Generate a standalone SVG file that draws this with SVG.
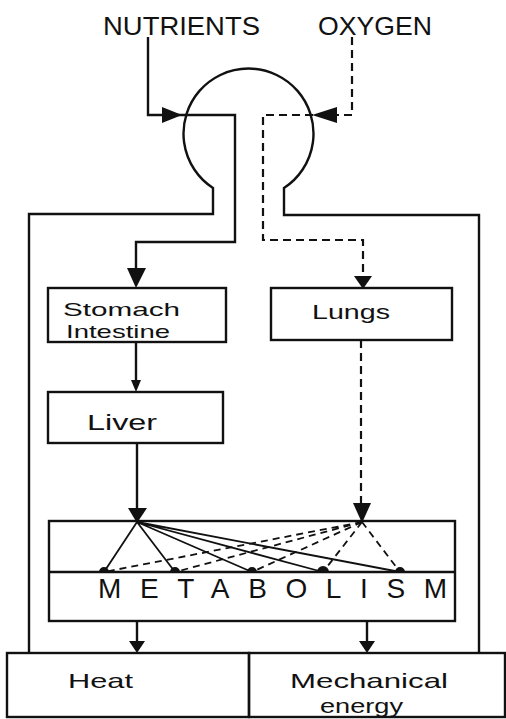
<svg xmlns="http://www.w3.org/2000/svg" width="506" height="719" viewBox="0 0 506 719">
<style>
.s{fill:none;stroke:#111;stroke-width:2.4;stroke-linejoin:miter}
.d{fill:none;stroke:#111;stroke-width:2.2;stroke-dasharray:8 5}
.dt{fill:none;stroke:#111;stroke-width:1.8;stroke-dasharray:7 5}
.l{fill:none;stroke:#111;stroke-width:1.8}
.a{fill:#111}
.t{font-family:"Liberation Sans",Arial,sans-serif;fill:#111}
</style>
<rect width="506" height="719" fill="#fff"/>
<g id="body">
<path class="s" d="M29,652 V214 H213 V188 A65,65 0 1 1 284,188 V215 H479 V652"/>
</g>
<g id="nutrients"><text class="t" x="103" y="35" font-size="26" textLength="157" lengthAdjust="spacingAndGlyphs">NUTRIENTS</text></g>
<g id="oxygen"><text class="t" x="318" y="35" font-size="26" textLength="114" lengthAdjust="spacingAndGlyphs">OXYGEN</text></g>
<g id="stomach">
<rect class="s" x="48" y="288" width="178" height="54"/>
<text class="t" x="63" y="316" font-size="19" textLength="117" lengthAdjust="spacingAndGlyphs">Stomach</text>
<text class="t" x="66" y="338" font-size="19" textLength="104" lengthAdjust="spacingAndGlyphs">Intestine</text>
</g>
<g id="lungs">
<rect class="s" x="271" y="288" width="181" height="52"/>
<text class="t" x="312" y="319" font-size="21" textLength="78" lengthAdjust="spacingAndGlyphs">Lungs</text>
</g>
<g id="liver">
<rect class="s" x="48" y="392" width="175" height="51"/>
<text class="t" x="87" y="430" font-size="22" textLength="70" lengthAdjust="spacingAndGlyphs">Liver</text>
</g>
<g id="metabolism">
<rect class="s" x="49" y="521" width="406" height="100"/>
<line class="s" x1="49" y1="572" x2="455" y2="572"/>
<text class="t" x="98" y="598" font-size="28" textLength="349" lengthAdjust="spacing">METABOLISM</text>
</g>
<g id="heat">
<rect class="s" x="7" y="653" width="242" height="64"/>
<text class="t" x="68" y="688" font-size="21" textLength="65" lengthAdjust="spacingAndGlyphs">Heat</text>
</g>
<g id="mechanical">
<rect class="s" x="249" y="653" width="256" height="64"/>
<text class="t" x="290" y="688" font-size="21" textLength="158" lengthAdjust="spacingAndGlyphs">Mechanical</text>
<text class="t" x="320" y="713" font-size="20" textLength="83" lengthAdjust="spacingAndGlyphs">energy</text>
</g>
<g id="connectors">
<path class="s" d="M148,37 V115 H235 V242 H136 V270"/>
<polygon class="a" points="162,107 182,115 162,123"/>
<polygon class="a" points="127,268 146,268 136,288"/>
<path class="d" d="M352,37 V115 H263 V240 H363 V278"/>
<polygon class="a" points="337,107 312,115 337,123"/>
<polygon class="a" points="354,276 372,276 363,289"/>
<path class="s" d="M136,342 V382"/>
<polygon class="a" points="131,380 141,380 136,392"/>
<path class="s" d="M137,443 V510"/>
<polygon class="a" points="128,508 147,508 137,523"/>
<path class="d" d="M361,340 V505"/>
<polygon class="a" points="353,503 371,503 362,523"/>
<path class="l" d="M137,522 L104,572 M137,522 L175,572 M137,522 L252,572 M137,522 L323,572 M137,522 L400,572"/>
<path class="dt" d="M362,522 L104,572 M362,522 L175,572 M362,522 L252,572 M362,522 L323,572 M362,522 L400,572"/>
<path class="a" d="M99,572 A5,5 0 0 1 109,572 Z M170,572 A5,5 0 0 1 180,572 Z M247,572 A5,5 0 0 1 257,572 Z M317,572 A6,6 0 0 1 329,572 Z M395,572 A5,5 0 0 1 405,572 Z"/>
<path class="s" d="M137,621 V643"/>
<polygon class="a" points="129,641 145,641 137,653"/>
<path class="s" d="M367,621 V643"/>
<polygon class="a" points="359,641 375,641 367,653"/>
</g>
</svg>
